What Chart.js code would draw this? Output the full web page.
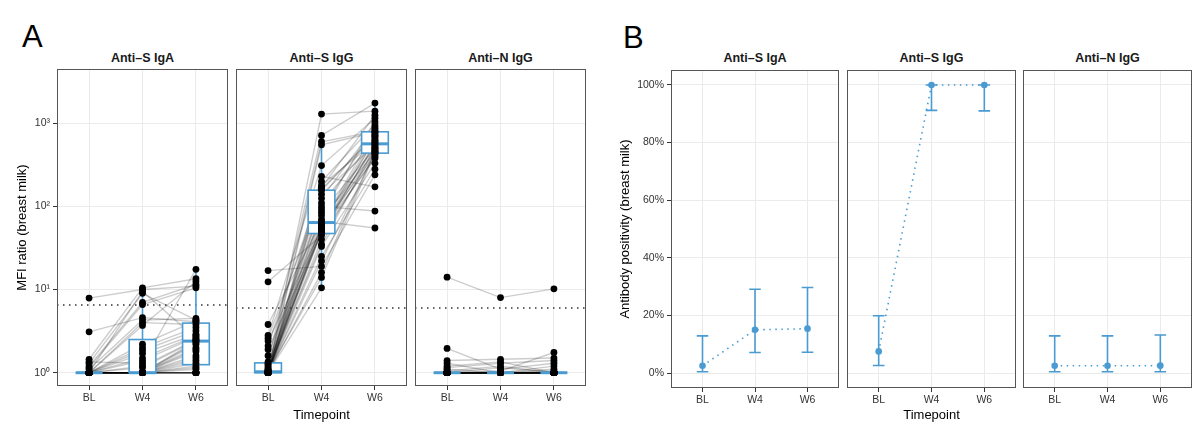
<!DOCTYPE html>
<html><head><meta charset="utf-8">
<script src="https://cdn.jsdelivr.net/npm/chart.js@4.4.1/dist/chart.umd.min.js"></script>
<style>
body{margin:0;width:1200px;height:430px;background:#fff;position:relative;overflow:hidden;font-family:"Liberation Sans",Arial,sans-serif;}
canvas{position:absolute;}
.strip{position:absolute;top:50px;height:16px;line-height:16px;font-weight:bold;font-size:12.5px;text-align:center;color:#1a1a1a;}
.tag{position:absolute;font-size:31px;line-height:32px;color:#000;}
</style></head><body>
<div class="tag" style="left:22px;top:21px;">A</div>
<div class="tag" style="left:623px;top:22px;">B</div>
<div id="strips"></div>
<canvas id="a1"></canvas><canvas id="a2"></canvas><canvas id="a3"></canvas>
<canvas id="b1"></canvas><canvas id="b2"></canvas><canvas id="b3"></canvas>
<script>
// ---------- data ----------
const timepoints = ['BL', 'W4', 'W6'];
const antibodies = ['Anti–S IgA', 'Anti–S IgG', 'Anti–N IgG'];

// Panel A: MFI ratio per participant (same index = same participant)
const igaBL = [7.9,3.1,1.45,1.35,1.3,1.2,1.15,1.1,1,1,1,1,1,1,1,1,1,1,1,1,1,1,1,1,1,1,1,1,1,1,1,1,1,1,1,1,1,1,1,1];
const igaW4 = [10.0,4.6,10.5,1.3,9.0,7.0,6.6,4.3,4.0,3.7,2.2,2.0,1.85,1.7,1.5,1.4,9.5,1.2,1.15,1,1,1,1,1,1,1,1,1,1,1,1,1,1,1,1,1,1,1,1,1];
const igaW6 = [11.0,4.1,13.5,17.5,4.3,11.5,10.5,4.5,3.8,12.5,4.2,3.5,3.2,2.9,2.8,2.7,2.6,2.5,2.45,2.4,2.3,2.2,2.0,1.9,1.8,1.6,1.5,1.4,1.3,1.2,1.15,1.1,1,1,1,1,1,1,1,null];

const iggBL = [1,1.35,1.08,1,2.8,1.02,1,2.1,1,1.25,1,2.6,1.05,1,1.6,1,1.15,1,1.03,3.8,1,1.3,1,1,2.4,1.06,1,1.2,1,1.9,12.4,1,1.1,1,1.01,1,16.9,1,1.04,1];
const iggW4 = [1290,713,600,550,310,230,200,180,170,162,155,140,125,110,100,92,85,78,70,66,62,60,58,56,54,52,51,50,49,48,45,40,35,33,25,22,19,16,14,10.5];
const iggW6 = [1400,1750,800,780,1150,172,980,600,1250,700,750,550,920,640,88,870,500,1050,450,55,620,830,720,420,530,670,380,566,490,580,400,460,510,330,280,435,240,475,440,null];

const nBL = [14.1,1.96,1.4,1.3,1.2,1.15,1.1,1.05,1,1,1,1,1,1,1,1,1,1,1,1,1,1,1,1,1,1,1,1,1,1,1,1,1,1,1,1,1,1,1,1];
const nW4 = [8.0,1.1,1.45,1.0,1.35,1.3,1.0,1.2,1.15,1.05,1,1,1,1,1,1,1,1,1,1,1,1,1,1,1,1,1,1,1,1,1,1,1,1,1,1,1,1,1,1];
const nW6 = [10.2,1.3,1.5,1.2,1.0,1.4,1.1,1.0,1.0,1.75,1.05,1,1,1,1,1,1,1,1,1,1,1,1,1,1,1,1,1,1,1,1,1,1,1,1,1,1,1,1,null];

const cutoffs = [6.5, 6.0, 6.0];

// Panel B: positivity (%) with 95% CI
const posIgA = [2.5, 15.0, 15.4];  const loIgA = [0.44, 7.1, 7.2];  const hiIgA = [12.9, 29.1, 29.7];
const posIgG = [7.5, 100, 100];    const loIgG = [2.6, 91.2, 91.0]; const hiIgG = [19.9, 100, 100];
const posN   = [2.5, 2.5, 2.56];   const loN   = [0.44, 0.44, 0.45]; const hiN  = [12.9, 12.9, 13.2];

const mfiTicks = [1, 10, 100, 1000];
const mfiTickLabels = ['10⁰', '10¹', '10²', '10³'];
const pctTicks = [0, 20, 40, 60, 80, 100];
const pctTickLabels = ['0%', '20%', '40%', '60%', '80%', '100%'];

// ---------- style ----------
const BLUE = '#4A9BD1';
const FONT = '"Liberation Sans", Arial, Helvetica, sans-serif';
const GRID = '#EBEBEB';
const TICKC = '#333333';

// ---------- helpers ----------
function boxStats(vals) {
  const l = vals.filter(v => v != null).map(Math.log10).sort((a, b) => a - b);
  const q = p => { const h = (l.length - 1) * p; const lo = Math.floor(h); const hi = Math.min(lo + 1, l.length - 1); return l[lo] + (h - lo) * (l[hi] - l[lo]); };
  const q1 = q(0.25), med = q(0.5), q3 = q(0.75), iqr = q3 - q1;
  const wLo = Math.min(...l.filter(v => v >= q1 - 1.5 * iqr));
  const wHi = Math.max(...l.filter(v => v <= q3 + 1.5 * iqr));
  return { q1: 10 ** q1, med: 10 ** med, q3: 10 ** q3, lo: 10 ** wLo, hi: 10 ** wHi };
}

const borderPlugin = {
  id: 'panelBorder',
  afterDraw(chart) {
    const a = chart.chartArea, ctx = chart.ctx;
    ctx.save();
    ctx.strokeStyle = '#555';
    ctx.lineWidth = 1;
    ctx.strokeRect(a.left + 0.5, a.top + 0.5, a.width - 1, a.height - 1);
    ctx.restore();
  }
};

function place(id, left, top, w, h) {
  const c = document.getElementById(id);
  c.width = w; c.height = h;
  c.style.left = left + 'px'; c.style.top = top + 'px';
  c.style.width = w + 'px'; c.style.height = h + 'px';
  return c;
}

function strip(text, left, width) {
  const d = document.createElement('div');
  d.className = 'strip';
  d.style.left = left + 'px'; d.style.width = width + 'px';
  d.textContent = text;
  document.getElementById('strips').appendChild(d);
}

function xScale(showTitle, h) {
  return {
    type: 'linear', min: 0.4, max: 3.6, bounds: 'data',
    afterBuildTicks: s => { s.ticks = timepoints.map((_, i) => ({ value: i + 1 })); },
    afterFit: s => { s.height = h; s.paddingLeft = 0; s.paddingRight = 0; },
    ticks: { callback: (v) => timepoints[Math.round(v) - 1], color: TICKC, font: { family: FONT, size: 10.5 }, padding: 2, maxRotation: 0, autoSkip: false },
    grid: { color: GRID, tickColor: '#333', tickLength: 4, lineWidth: 1 },
    border: { display: false },
    title: { display: showTitle, text: 'Timepoint', color: '#000', font: { family: FONT, size: 13 }, padding: { top: 0, bottom: 7 } }
  };
}

// ---------- Panel A ----------
function makeMfi(id, series, cutoff, showY, showXTitle, panelLeft, panelW) {
  const yW = showY ? 57 : 0;
  const canvas = place(id, panelLeft - yW, 68, yW + panelW + 1, 362);
  const n = series[0].length;
  const datasets = [];
  for (let i = 0; i < n; i++) {
    datasets.push({
      type: 'line',
      data: series.map((s, t) => ({ x: t + 1, y: s[i] })),
      borderColor: 'rgba(0,0,0,0.2)', borderWidth: 1.4, pointRadius: 0, spanGaps: false, order: 2
    });
  }
  const pts = [];
  series.forEach((s, t) => s.forEach(v => { if (v != null) pts.push({ x: t + 1, y: v }); }));
  datasets.push({ type: 'scatter', data: pts, pointRadius: 3.4, pointBackgroundColor: '#000', pointBorderWidth: 0, order: 1, isPoints: true });
  const stats = series.map(boxStats);

  const boxPlugin = {
    id: 'boxes',
    beforeDatasetDraw(chart, args) {
      if (!chart.data.datasets[args.index].isPoints) return;
      const xs = chart.scales.x, ys = chart.scales.y, ctx = chart.ctx, a = chart.chartArea;
      ctx.save();
      // cutoff
      const yc = ys.getPixelForValue(cutoff);
      ctx.strokeStyle = '#333'; ctx.lineWidth = 1.5; ctx.setLineDash([1.5, 4.5]);
      ctx.beginPath(); ctx.moveTo(a.left, yc); ctx.lineTo(a.right, yc); ctx.stroke();
      ctx.setLineDash([]);
      // boxes
      stats.forEach((st, t) => {
        const xc = xs.getPixelForValue(t + 1);
        const x0 = xs.getPixelForValue(t + 1 - 0.25), x1 = xs.getPixelForValue(t + 1 + 0.25);
        const yq1 = ys.getPixelForValue(st.q1), yq3 = ys.getPixelForValue(st.q3);
        const ym = ys.getPixelForValue(st.med);
        const ylo = ys.getPixelForValue(st.lo), yhi = ys.getPixelForValue(st.hi);
        ctx.strokeStyle = BLUE; ctx.lineWidth = 1.6;
        ctx.beginPath();
        ctx.moveTo(xc, yq3); ctx.lineTo(xc, yhi);
        ctx.moveTo(xc, yq1); ctx.lineTo(xc, ylo);
        ctx.stroke();
        ctx.fillStyle = '#fff';
        ctx.fillRect(x0, yq3, x1 - x0, yq1 - yq3);
        ctx.strokeRect(x0, yq3, x1 - x0, yq1 - yq3);
        ctx.lineWidth = 3;
        ctx.beginPath(); ctx.moveTo(x0, ym); ctx.lineTo(x1, ym); ctx.stroke();
      });
      ctx.restore();
    }
  };

  new Chart(canvas, {
    data: { datasets },
    options: {
      responsive: false, animation: false, devicePixelRatio: 1,
      layout: { autoPadding: false, padding: { top: 1, right: 1, left: 0, bottom: 0 } },
      plugins: { legend: { display: false }, tooltip: { enabled: false } },
      scales: {
        x: xScale(showXTitle, 44),
        y: {
          type: 'logarithmic', min: 10 ** -0.16, max: 10 ** 3.653, bounds: 'data',
          afterBuildTicks: s => { s.ticks = mfiTicks.map(v => ({ value: v })); },
          afterFit: s => { s.width = yW; s.paddingTop = 0; s.paddingBottom = 0; },
          ticks: { display: showY, callback: (v, i) => mfiTickLabels[i], color: TICKC, font: { family: FONT, size: 10.5 }, padding: 3, autoSkip: false },
          grid: { color: GRID, tickColor: '#333', tickLength: 4, drawTicks: showY, lineWidth: 1 },
          border: { display: false },
          title: { display: showY, text: 'MFI ratio (breast milk)', color: '#000', font: { family: FONT, size: 13 }, padding: { top: 15, bottom: 0 } }
        }
      }
    },
    plugins: [boxPlugin, borderPlugin]
  });
}

// ---------- Panel B ----------
function makePos(id, pos, lo, hi, showY, showXTitle, panelLeft, panelW) {
  const yW = showY ? 71 : 0;
  const canvas = place(id, panelLeft - yW, 69, yW + panelW + 1, 361);
  const errPlugin = {
    id: 'errbars',
    beforeDatasetsDraw(chart) {
      const xs = chart.scales.x, ys = chart.scales.y, ctx = chart.ctx;
      ctx.save();
      ctx.strokeStyle = BLUE; ctx.lineWidth = 1.6;
      pos.forEach((v, i) => {
        const xc = xs.getPixelForValue(i + 1);
        const x0 = xs.getPixelForValue(i + 1 - 0.11), x1 = xs.getPixelForValue(i + 1 + 0.11);
        const yl = ys.getPixelForValue(lo[i]), yh = ys.getPixelForValue(hi[i]);
        ctx.beginPath();
        ctx.moveTo(xc, yl); ctx.lineTo(xc, yh);
        ctx.moveTo(x0, yl); ctx.lineTo(x1, yl);
        ctx.moveTo(x0, yh); ctx.lineTo(x1, yh);
        ctx.stroke();
      });
      ctx.restore();
    }
  };
  new Chart(canvas, {
    type: 'line',
    data: { datasets: [{
      data: pos.map((v, i) => ({ x: i + 1, y: v })),
      borderColor: BLUE, borderWidth: 1.6, borderDash: [1.5, 4.5],
      pointRadius: 3.3, pointBackgroundColor: BLUE, pointBorderWidth: 0, clip: false
    }] },
    options: {
      responsive: false, animation: false, devicePixelRatio: 1,
      layout: { autoPadding: false, padding: { top: 1, right: 1, left: 0, bottom: 0 } },
      plugins: { legend: { display: false }, tooltip: { enabled: false } },
      scales: {
        x: xScale(showXTitle, 42),
        y: {
          type: 'linear', min: -5.2, max: 105.2, bounds: 'data',
          afterBuildTicks: s => { s.ticks = pctTicks.map(v => ({ value: v })); },
          afterFit: s => { s.width = yW; s.paddingTop = 0; s.paddingBottom = 0; },
          ticks: { display: showY, callback: (v, i) => pctTickLabels[i], color: TICKC, font: { family: FONT, size: 10.5 }, padding: 3, autoSkip: false },
          grid: { color: GRID, tickColor: '#333', tickLength: 4, drawTicks: showY, lineWidth: 1 },
          border: { display: false },
          title: { display: showY, text: 'Antibody positivity (breast milk)', color: '#000', font: { family: FONT, size: 13 }, padding: { top: 18, bottom: 0 } }
        }
      }
    },
    plugins: [errPlugin, borderPlugin]
  });
}

const aPanels = [[57, 171], [236, 171], [415, 171]];
const bPanels = [[671, 168], [847, 169], [1023, 169]];
antibodies.forEach((t, i) => { strip(t, aPanels[i][0], aPanels[i][1]); strip(t, bPanels[i][0], bPanels[i][1]); });

makeMfi('a1', [igaBL, igaW4, igaW6], cutoffs[0], true, false, aPanels[0][0], aPanels[0][1]);
makeMfi('a2', [iggBL, iggW4, iggW6], cutoffs[1], false, true, aPanels[1][0], aPanels[1][1]);
makeMfi('a3', [nBL, nW4, nW6], cutoffs[2], false, false, aPanels[2][0], aPanels[2][1]);

makePos('b1', posIgA, loIgA, hiIgA, true, false, bPanels[0][0], bPanels[0][1]);
makePos('b2', posIgG, loIgG, hiIgG, false, true, bPanels[1][0], bPanels[1][1]);
makePos('b3', posN, loN, hiN, false, false, bPanels[2][0], bPanels[2][1]);
</script>
</body></html>
